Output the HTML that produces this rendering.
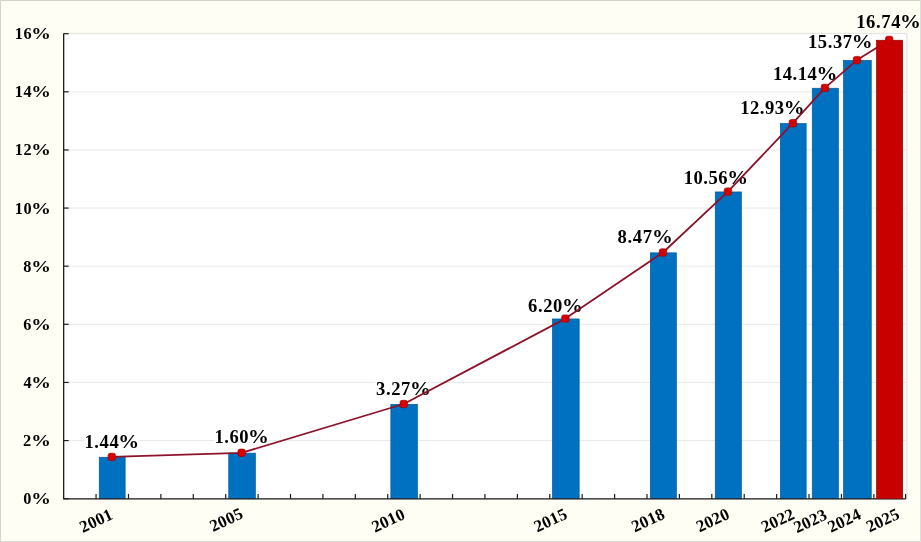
<!DOCTYPE html>
<html><head><meta charset="utf-8"><style>
html,body{margin:0;padding:0;background:#FEFEF4;}
svg{display:block;will-change:transform;}
text{font-family:"Liberation Serif",serif;font-weight:bold;fill:#000;}
.yl{font-size:16.3px;}
.dl{font-size:18.6px;}
.xl{font-size:16.9px;letter-spacing:0.2px;}
</style></head><body>
<svg width="921" height="542" viewBox="0 0 921 542">
<rect x="0" y="0" width="921" height="542" fill="#FEFEF4"/>
<path d="M0.5,542 L0.5,0.5 L921,0.5" fill="none" stroke="#D4D4CE" stroke-width="1"/>
<path d="M0,541.5 L920.5,541.5 L920.5,0" fill="none" stroke="#DEDED8" stroke-width="1"/>
<rect x="63.65" y="33.4" width="843.25" height="465.3" fill="#FFFFFF" stroke="#DCDCDA" stroke-width="1"/>
<line x1="63.65" y1="440.57" x2="906.9" y2="440.57" stroke="#E8E8E8" stroke-width="1"/>
<line x1="63.65" y1="382.45" x2="906.9" y2="382.45" stroke="#E8E8E8" stroke-width="1"/>
<line x1="63.65" y1="324.32" x2="906.9" y2="324.32" stroke="#E8E8E8" stroke-width="1"/>
<line x1="63.65" y1="266.20" x2="906.9" y2="266.20" stroke="#E8E8E8" stroke-width="1"/>
<line x1="63.65" y1="208.07" x2="906.9" y2="208.07" stroke="#E8E8E8" stroke-width="1"/>
<line x1="63.65" y1="149.95" x2="906.9" y2="149.95" stroke="#E8E8E8" stroke-width="1"/>
<line x1="63.65" y1="91.82" x2="906.9" y2="91.82" stroke="#E8E8E8" stroke-width="1"/>
<line x1="63.65" y1="33.70" x2="906.9" y2="33.70" stroke="#E8E8E8" stroke-width="1"/>
<rect x="99.25" y="457.25" width="25.90" height="41.45" fill="#0070C0" stroke="#005A9C" stroke-width="0.7"/>
<rect x="228.75" y="453.15" width="26.60" height="45.55" fill="#0070C0" stroke="#005A9C" stroke-width="0.7"/>
<rect x="390.85" y="404.35" width="26.50" height="94.35" fill="#0070C0" stroke="#005A9C" stroke-width="0.7"/>
<rect x="552.45" y="318.95" width="26.70" height="179.75" fill="#0070C0" stroke="#005A9C" stroke-width="0.7"/>
<rect x="650.35" y="252.85" width="26.00" height="245.85" fill="#0070C0" stroke="#005A9C" stroke-width="0.7"/>
<rect x="715.25" y="191.95" width="26.10" height="306.75" fill="#0070C0" stroke="#005A9C" stroke-width="0.7"/>
<rect x="780.35" y="123.55" width="25.80" height="375.15" fill="#0070C0" stroke="#005A9C" stroke-width="0.7"/>
<rect x="812.25" y="88.25" width="26.10" height="410.45" fill="#0070C0" stroke="#005A9C" stroke-width="0.7"/>
<rect x="843.55" y="60.45" width="27.70" height="438.25" fill="#0070C0" stroke="#005A9C" stroke-width="0.7"/>
<path d="M63.65,33.4 L63.65,498.9 L905.7,498.9" fill="none" stroke="#1E1E1E" stroke-width="1.3" stroke-linejoin="round"/>
<line x1="63.65" y1="498.70" x2="68.65" y2="498.70" stroke="#1E1E1E" stroke-width="1.2"/>
<line x1="63.65" y1="440.57" x2="68.65" y2="440.57" stroke="#1E1E1E" stroke-width="1.2"/>
<line x1="63.65" y1="382.45" x2="68.65" y2="382.45" stroke="#1E1E1E" stroke-width="1.2"/>
<line x1="63.65" y1="324.32" x2="68.65" y2="324.32" stroke="#1E1E1E" stroke-width="1.2"/>
<line x1="63.65" y1="266.20" x2="68.65" y2="266.20" stroke="#1E1E1E" stroke-width="1.2"/>
<line x1="63.65" y1="208.07" x2="68.65" y2="208.07" stroke="#1E1E1E" stroke-width="1.2"/>
<line x1="63.65" y1="149.95" x2="68.65" y2="149.95" stroke="#1E1E1E" stroke-width="1.2"/>
<line x1="63.65" y1="91.82" x2="68.65" y2="91.82" stroke="#1E1E1E" stroke-width="1.2"/>
<line x1="63.65" y1="33.70" x2="68.65" y2="33.70" stroke="#1E1E1E" stroke-width="1.2"/>
<line x1="96.06" y1="498.9" x2="96.06" y2="493.9" stroke="#1E1E1E" stroke-width="1.2"/>
<line x1="128.47" y1="498.9" x2="128.47" y2="493.9" stroke="#1E1E1E" stroke-width="1.2"/>
<line x1="160.87" y1="498.9" x2="160.87" y2="493.9" stroke="#1E1E1E" stroke-width="1.2"/>
<line x1="193.28" y1="498.9" x2="193.28" y2="493.9" stroke="#1E1E1E" stroke-width="1.2"/>
<line x1="225.69" y1="498.9" x2="225.69" y2="493.9" stroke="#1E1E1E" stroke-width="1.2"/>
<line x1="258.10" y1="498.9" x2="258.10" y2="493.9" stroke="#1E1E1E" stroke-width="1.2"/>
<line x1="290.51" y1="498.9" x2="290.51" y2="493.9" stroke="#1E1E1E" stroke-width="1.2"/>
<line x1="322.91" y1="498.9" x2="322.91" y2="493.9" stroke="#1E1E1E" stroke-width="1.2"/>
<line x1="355.32" y1="498.9" x2="355.32" y2="493.9" stroke="#1E1E1E" stroke-width="1.2"/>
<line x1="387.73" y1="498.9" x2="387.73" y2="493.9" stroke="#1E1E1E" stroke-width="1.2"/>
<line x1="420.14" y1="498.9" x2="420.14" y2="493.9" stroke="#1E1E1E" stroke-width="1.2"/>
<line x1="452.55" y1="498.9" x2="452.55" y2="493.9" stroke="#1E1E1E" stroke-width="1.2"/>
<line x1="484.95" y1="498.9" x2="484.95" y2="493.9" stroke="#1E1E1E" stroke-width="1.2"/>
<line x1="517.36" y1="498.9" x2="517.36" y2="493.9" stroke="#1E1E1E" stroke-width="1.2"/>
<line x1="549.77" y1="498.9" x2="549.77" y2="493.9" stroke="#1E1E1E" stroke-width="1.2"/>
<line x1="582.18" y1="498.9" x2="582.18" y2="493.9" stroke="#1E1E1E" stroke-width="1.2"/>
<line x1="614.59" y1="498.9" x2="614.59" y2="493.9" stroke="#1E1E1E" stroke-width="1.2"/>
<line x1="646.99" y1="498.9" x2="646.99" y2="493.9" stroke="#1E1E1E" stroke-width="1.2"/>
<line x1="679.40" y1="498.9" x2="679.40" y2="493.9" stroke="#1E1E1E" stroke-width="1.2"/>
<line x1="711.81" y1="498.9" x2="711.81" y2="493.9" stroke="#1E1E1E" stroke-width="1.2"/>
<line x1="744.22" y1="498.9" x2="744.22" y2="493.9" stroke="#1E1E1E" stroke-width="1.2"/>
<line x1="776.63" y1="498.9" x2="776.63" y2="493.9" stroke="#1E1E1E" stroke-width="1.2"/>
<line x1="809.03" y1="498.9" x2="809.03" y2="493.9" stroke="#1E1E1E" stroke-width="1.2"/>
<line x1="841.44" y1="498.9" x2="841.44" y2="493.9" stroke="#1E1E1E" stroke-width="1.2"/>
<line x1="873.85" y1="498.9" x2="873.85" y2="493.9" stroke="#1E1E1E" stroke-width="1.2"/>
<line x1="905.60" y1="498.9" x2="905.60" y2="493.9" stroke="#1E1E1E" stroke-width="1.2"/>
<text class="yl" x="23.18" y="504.18">0</text><text class="yl" transform="translate(31.27,504.18) scale(1.2,1)">%</text>
<text class="yl" x="23.12" y="446.05">2</text><text class="yl" transform="translate(31.27,446.05) scale(1.2,1)">%</text>
<text class="yl" x="23.58" y="387.93">4</text><text class="yl" transform="translate(31.27,387.93) scale(1.2,1)">%</text>
<text class="yl" x="23.24" y="329.80">6</text><text class="yl" transform="translate(31.27,329.80) scale(1.2,1)">%</text>
<text class="yl" x="23.26" y="271.68">8</text><text class="yl" transform="translate(31.27,271.68) scale(1.2,1)">%</text>
<text class="yl" x="14.69 23.39" y="213.55">10</text><text class="yl" transform="translate(31.27,213.55) scale(1.2,1)">%</text>
<text class="yl" x="14.69 23.39" y="155.43">12</text><text class="yl" transform="translate(31.27,155.43) scale(1.2,1)">%</text>
<text class="yl" x="14.69 23.39" y="97.30">14</text><text class="yl" transform="translate(31.27,97.30) scale(1.2,1)">%</text>
<text class="yl" x="14.69 23.39" y="39.18">16</text><text class="yl" transform="translate(31.27,39.18) scale(1.2,1)">%</text>
<text x="0" y="5.58" text-anchor="middle" class="xl" transform="translate(96.15,520.55) rotate(-25)">2001</text>
<text x="0" y="5.58" text-anchor="middle" class="xl" transform="translate(226.35,519.70) rotate(-25)">2005</text>
<text x="0" y="5.58" text-anchor="middle" class="xl" transform="translate(388.25,520.30) rotate(-25)">2010</text>
<text x="0" y="5.58" text-anchor="middle" class="xl" transform="translate(550.45,520.00) rotate(-25)">2015</text>
<text x="0" y="5.58" text-anchor="middle" class="xl" transform="translate(648.10,520.00) rotate(-25)">2018</text>
<text x="0" y="5.58" text-anchor="middle" class="xl" transform="translate(712.70,520.00) rotate(-25)">2020</text>
<text x="0" y="5.58" text-anchor="middle" class="xl" transform="translate(777.85,520.25) rotate(-25)">2022</text>
<text x="0" y="5.58" text-anchor="middle" class="xl" transform="translate(810.35,520.90) rotate(-25)">2023</text>
<text x="0" y="5.58" text-anchor="middle" class="xl" transform="translate(844.25,520.45) rotate(-25)">2024</text>
<text x="0" y="5.58" text-anchor="middle" class="xl" transform="translate(882.75,520.20) rotate(-25)">2025</text>
<rect x="84.50" y="433.80" width="54.20" height="15.50" fill="#FFFFFF"/>
<rect x="214.50" y="429.20" width="53.90" height="15.50" fill="#FFFFFF"/>
<rect x="375.30" y="380.30" width="55.10" height="15.60" fill="#FFFFFF"/>
<rect x="527.20" y="297.30" width="55.10" height="15.90" fill="#FFFFFF"/>
<rect x="616.50" y="228.80" width="55.80" height="15.90" fill="#FFFFFF"/>
<rect x="683.70" y="169.60" width="63.90" height="15.50" fill="#FFFFFF"/>
<rect x="740.20" y="99.60" width="63.90" height="15.50" fill="#FFFFFF"/>
<rect x="773.00" y="65.30" width="63.80" height="15.60" fill="#FFFFFF"/>
<rect x="808.00" y="34.10" width="64.10" height="15.50" fill="#FFFFFF"/>
<text class="dl" x="84.51 94.36 99.56 109.40" y="447.99">1.44</text><text class="dl" transform="translate(118.32,447.99) scale(1.12,1)">%</text>
<text class="dl" x="214.51 224.28 229.41 239.18" y="443.39">1.60</text><text class="dl" transform="translate(248.02,443.39) scale(1.12,1)">%</text>
<text class="dl" x="376.10 385.98 391.20 401.08" y="394.54">3.27</text><text class="dl" transform="translate(410.02,394.54) scale(1.12,1)">%</text>
<text class="dl" x="528.06 537.92 543.13 552.99" y="311.69">6.20</text><text class="dl" transform="translate(561.92,311.69) scale(1.12,1)">%</text>
<text class="dl" x="617.38 627.41 632.79 642.82" y="243.19">8.47</text><text class="dl" transform="translate(651.92,243.19) scale(1.12,1)">%</text>
<text class="dl" x="683.71 693.53 703.35 708.51 718.33" y="183.79">10.56</text><text class="dl" transform="translate(727.22,183.79) scale(1.12,1)">%</text>
<text class="dl" x="740.21 750.03 759.85 765.01 774.83" y="113.79">12.93</text><text class="dl" transform="translate(783.72,113.79) scale(1.12,1)">%</text>
<text class="dl" x="773.01 782.81 792.61 797.75 807.55" y="79.54">14.14</text><text class="dl" transform="translate(816.42,79.54) scale(1.12,1)">%</text>
<text class="dl" x="808.01 817.87 827.73 832.93 842.79" y="48.29">15.37</text><text class="dl" transform="translate(851.72,48.29) scale(1.12,1)">%</text>
<text class="dl" x="856.21 866.11 876.01 881.25 891.15" y="28.29">16.74</text><text class="dl" transform="translate(900.12,28.29) scale(1.12,1)">%</text>
<polyline points="111.80,456.9 241.65,452.8 403.70,404.0 565.40,318.6 662.95,252.5 727.90,191.6 792.85,123.2 824.90,87.9 857.00,60.1 889.20,39.9" fill="none" stroke="#8E1228" stroke-width="1.8" stroke-linejoin="round"/>
<rect x="876.55" y="40.25" width="26.10" height="458.45" fill="#C80000" stroke="#920000" stroke-width="0.7"/>
<rect x="108.10" y="453.20" width="7.4" height="7.4" rx="2.2" fill="#D60000" stroke="#A80000" stroke-width="0.7"/>
<rect x="237.95" y="449.10" width="7.4" height="7.4" rx="2.2" fill="#D60000" stroke="#A80000" stroke-width="0.7"/>
<rect x="400.00" y="400.30" width="7.4" height="7.4" rx="2.2" fill="#D60000" stroke="#A80000" stroke-width="0.7"/>
<rect x="561.70" y="314.90" width="7.4" height="7.4" rx="2.2" fill="#D60000" stroke="#A80000" stroke-width="0.7"/>
<rect x="659.25" y="248.80" width="7.4" height="7.4" rx="2.2" fill="#D60000" stroke="#A80000" stroke-width="0.7"/>
<rect x="724.20" y="187.90" width="7.4" height="7.4" rx="2.2" fill="#D60000" stroke="#A80000" stroke-width="0.7"/>
<rect x="789.15" y="119.50" width="7.4" height="7.4" rx="2.2" fill="#D60000" stroke="#A80000" stroke-width="0.7"/>
<rect x="821.20" y="84.20" width="7.4" height="7.4" rx="2.2" fill="#D60000" stroke="#A80000" stroke-width="0.7"/>
<rect x="853.30" y="56.40" width="7.4" height="7.4" rx="2.2" fill="#D60000" stroke="#A80000" stroke-width="0.7"/>
<rect x="885.50" y="36.20" width="7.4" height="7.4" rx="2.2" fill="#D60000" stroke="#A80000" stroke-width="0.7"/>
</svg>
</body></html>
